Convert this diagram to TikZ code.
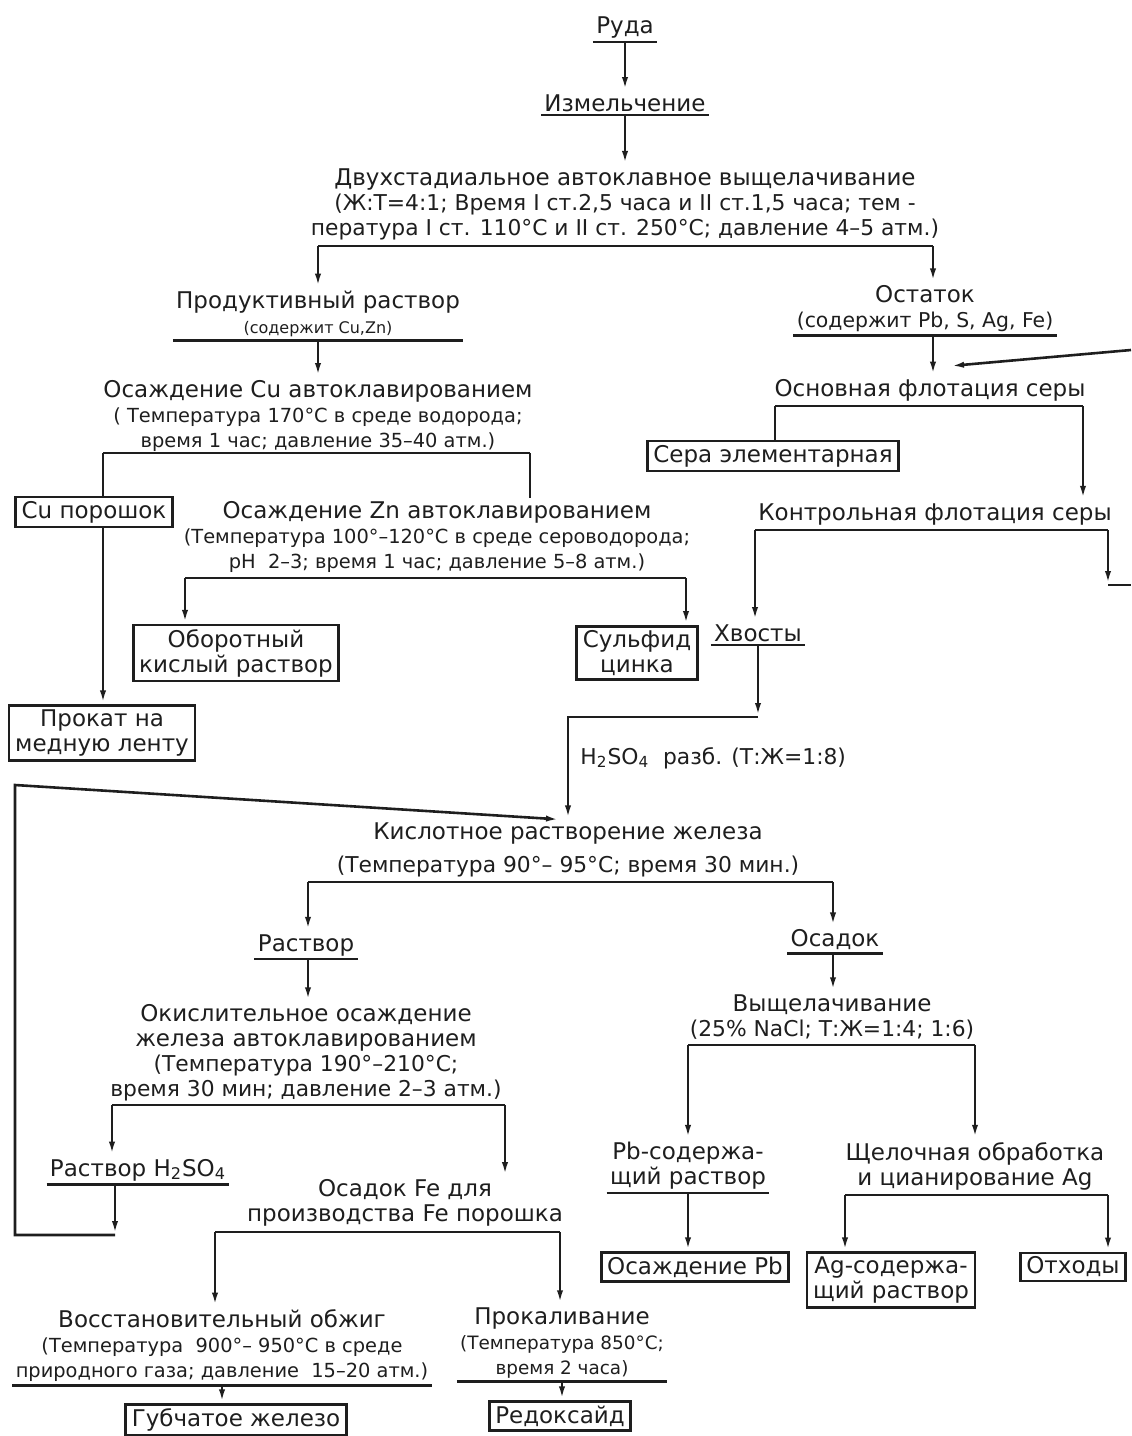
\documentclass[tikz,border=0pt]{standalone}
\usepackage{fontspec}
\setmainfont{DejaVu Sans}
\usepackage{tikz}
\usetikzlibrary{arrows.meta}
\usepackage{xcolor}
\definecolor{InkDark}{RGB}{30,30,30}
\newcommand{\fmain}{\fontsize{11.5}{12.5}\selectfont}
\newcommand{\fparL}{\fontsize{10.9}{12.5}\selectfont}
\newcommand{\fpar}{\fontsize{10.2}{12.5}\selectfont}
\newcommand{\fparS}{\fontsize{9.7}{12.5}\selectfont}
\newcommand{\fparXS}{\fontsize{9.2}{12.5}\selectfont}
\newcommand{\fsub}{\fontsize{8}{11}\selectfont}

\begin{document}
\begin{tikzpicture}[x=0.5pt, y=-0.5pt, color=InkDark,
    ln/.style={line width=1.3pt},
    arr/.style={line width=1.3pt, -{Latex[length=7pt,width=3pt]}},
    txt/.style={font=\fmain, align=center, inner sep=1.5pt},
    ul/.style={append after command={(\tikzlastnode.south west) edge[ln] (\tikzlastnode.south east)}},
    outbox/.style={draw, line width=1.3pt, font=\fmain, align=center, inner xsep=3pt, inner ysep=2pt}
]
\useasboundingbox (0,0) rectangle (1131,1436);
% trunk
\node[txt, ul] (ruda) at (625,28) {Руда};
\node[txt, ul] (izm) at (625,103) {Измельчение};
\node[txt] (dvux) at (625,204) {Двухстадиальное автоклавное выщелачивание\\{\fparL (Ж:Т=4:1; Время I ст.2,5 часа и II ст.1,5 часа; тем -}\\{\fparL пература I ст. 110°C и II ст. 250°C; давление 4–5 атм.)}};
\coordinate (dvL) at (318,246);
\coordinate (dvR) at (933,246);
% copper and zinc
\node[txt, ul] (prod) at (318,314) {Продуктивный раствор\\{\fsub (содержит Cu,Zn)}};
\node[txt] (cu) at (318,416) {Осаждение Cu автоклавированием\\{\fparS ( Температура 170°C в среде водорода;}\\{\fparS время 1 час; давление 35–40 атм.)}};
\coordinate (cuL) at (103,453);
\coordinate (cuR) at (530,453);
\node[outbox] (cupor) at (94,512) {Cu порошок};
\node[outbox] (prokat) at (102,733) {Прокат на\\медную ленту};
\node[txt] (zn) at (437,537) {Осаждение Zn автоклавированием\\{\fparS (Температура 100°–120°C в среде сероводорода;}\\{\fparS pH\ \ 2–3; время 1 час; давление 5–8 атм.)}};
\coordinate (znL) at (185,578);
\coordinate (znR) at (686,578);
\node[outbox] (obor) at (236,653) {Оборотный\\кислый раствор};
\node[outbox] (sulf) at (637,653) {Сульфид\\цинка};
% residue and sulphur
\node[txt, ul] (ost) at (925,309) {Остаток\\{\fpar (содержит Pb, S, Ag, Fe)}};
\coordinate (recIn) at (950,366);
\coordinate (recB) at (1131,350);
\node[txt] (osn) at (930,390) {Основная флотация серы};
\coordinate (osnL) at (775,406);
\coordinate (osnR) at (1083,406);
\node[outbox] (sera) at (773,456) {Сера элементарная};
\node[txt] (kont) at (935,514) {Контрольная флотация серы};
\coordinate (kontL) at (755,530);
\coordinate (kontR) at (1108,530);
\coordinate (recA) at (1108,585);
\coordinate (recE) at (1131,585);
\node[txt, ul] (khv) at (758,633) {Хвосты};
\coordinate (khvA) at (758,717);
\node[font=\fparL, anchor=west, inner sep=0pt] (acid) at (580,758) {H\textsubscript{2}SO\textsubscript{4}\ \ разб. (Т:Ж=1:8)};
% iron
\node[txt] (kisl) at (568,850) {Кислотное растворение железа\\[4pt]{\fparL (Температура 90°– 95°C; время 30 мин.)}};
\coordinate (kiL) at (308,882);
\coordinate (kiR) at (833,882);
\coordinate (lpA) at (115,1235);
\coordinate (lpB) at (15,1235);
\coordinate (lpC) at (15,785);
\node[txt, ul] (rast) at (306,945) {Раствор};
\node[txt] (okis) at (306,1053) {Окислительное осаждение\\железа автоклавированием\\{\fparL (Температура 190°–210°C;}\\{\fparL время 30 мин; давление 2–3 атм.)}};
\coordinate (okL) at (112,1105);
\coordinate (okR) at (505,1105);
\node[txt, ul] (rastH) at (138,1170) {Раствор H\textsubscript{2}SO\textsubscript{4}};
\node[txt] (osFe) at (405,1203) {Осадок Fe для\\производства Fe порошка};
\coordinate (feL) at (215,1232);
\coordinate (feR) at (560,1232);
\node[txt, ul] (vos) at (222,1346) {Восстановительный обжиг\\{\fparS (Температура\ \ 900°– 950°C в среде}\\{\fparS природного газа; давление\ \ 15–20 атм.)}};
\node[txt, ul] (prok) at (562,1343) {Прокаливание\\{\fparXS (Температура 850°C;}\\{\fparXS время 2 часа)}};
\node[outbox] (gub) at (236,1420) {Губчатое железо};
\node[outbox] (redox) at (560,1416) {Редоксайд};
% lead and silver
\node[txt, ul] (osad) at (835,940) {Осадок};
\node[txt] (vysh) at (832,1017) {Выщелачивание\\{\fparL (25\% NaCl; Т:Ж=1:4; 1:6)}};
\coordinate (vyL) at (688,1045);
\coordinate (vyR) at (975,1045);
\node[txt, ul] (pbs) at (688,1166) {Pb-содержа-\\щий раствор};
\node[txt] (shch) at (975,1166) {Щелочная обработка\\и цианирование Ag};
\coordinate (shL) at (845,1195);
\coordinate (shR) at (1108,1195);
\node[outbox] (osPb) at (695,1267) {Осаждение Pb};
\node[outbox] (agr) at (891,1280) {Ag-содержа-\\щий раствор};
\node[outbox] (otx) at (1073,1267) {Отходы};
% connectors
\draw[arr] (ruda.south) -- (izm.north);
\draw[arr] (izm.south) -- (dvux.north);
\draw[ln] (dvL) -- (dvR);
\draw[arr] (dvL) -- (prod.north);
\draw[arr] (dvR) -- (dvR |- ost.north);
\draw[arr] (prod.south) -- (cu.north);
\draw[ln] (cuL) -- (cuR);
\draw[ln] (cuL) -- (cuL |- cupor.north);
\draw[ln] (cuR) -- (cuR |- zn.north);
\draw[arr] (cuL |- cupor.south) -- (cuL |- prokat.north);
\draw[ln] (znL) -- (znR);
\draw[arr] (znL) -- (znL |- obor.north);
\draw[arr] (znR) -- (znR |- sulf.north);
\draw[arr] (dvR |- ost.south) -- (dvR |- osn.north);
\draw[arr] (recB) -- (recIn);
\draw[ln] (osnL) -- (osnR);
\draw[ln] (osnL) -- (osnL |- sera.north);
\draw[arr] (osnR) -- (osnR |- kont.north);
\draw[ln] (kontL) -- (kontR);
\draw[arr] (kontR) -- (recA);
\draw[ln] (recA) -- (recE);
\draw[arr] (kontL) -- (kontL |- khv.north);
\draw[arr] (khv.south) -- (khvA);
\draw[arr] (khvA) -- (khvA -| kisl.north) -- (kisl.north);
\draw[arr] (lpA |- rastH.south) -- (lpA);
\draw[arr] (lpA) -- (lpB) -- (lpC) -- ([xshift=-4pt]kisl.north);
\draw[ln] (kiL) -- (kiR);
\draw[arr] (kiL) -- (kiL |- rast.north);
\draw[arr] (kiR) -- (kiR |- osad.north);
\draw[arr] (kiL |- rast.south) -- (kiL |- okis.north);
\draw[ln] (okL) -- (okR);
\draw[arr] (okL) -- (okL |- rastH.north);
\draw[arr] (okR) -- (okR |- osFe.north);
\draw[ln] (feL) -- (feR);
\draw[arr] (feL) -- (feL |- vos.north);
\draw[arr] (feR) -- (feR |- prok.north);
\draw[arr] (vos.south) -- (vos.south |- gub.north);
\draw[arr] (prok.south) -- (prok.south |- redox.north);
\draw[arr] (kiR |- osad.south) -- (kiR |- vysh.north);
\draw[ln] (vyL) -- (vyR);
\draw[arr] (vyL) -- (vyL |- pbs.north);
\draw[arr] (vyR) -- (vyR |- shch.north);
\draw[arr] (pbs.south) -- (pbs.south |- osPb.north);
\draw[ln] (shL) -- (shR);
\draw[arr] (shL) -- (shL |- agr.north);
\draw[arr] (shR) -- (shR |- otx.north);
\end{tikzpicture}
\end{document}
